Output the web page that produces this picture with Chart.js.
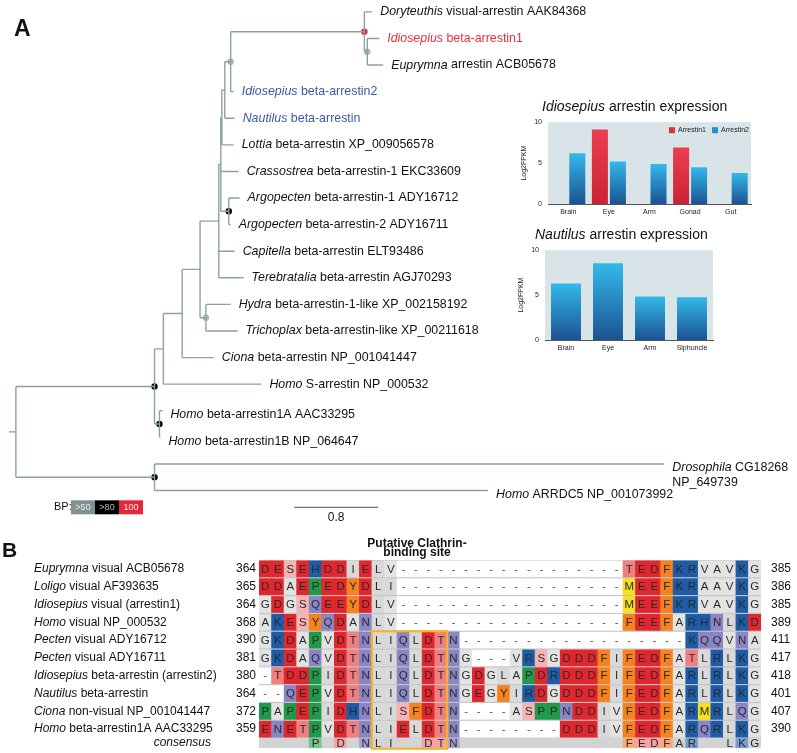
<!DOCTYPE html>
<html>
<head>
<meta charset="utf-8">
<title>Arrestin tree, expression and alignment</title>
<script src="https://cdn.jsdelivr.net/npm/chart.js@4.4.1/dist/chart.umd.min.js"></script>
<style>
  body { margin: 0; background: #fff; font-family: "Liberation Sans", Arial, sans-serif; }
  #page { position: relative; width: 797px; height: 753px; overflow: hidden; }
  canvas { position: absolute; }
  .txt { position: absolute; white-space: nowrap; color: #111; }
  .panel { font-weight: bold; font-size: 23px; line-height: 23px; }
  .ttl { font-size: 14px; line-height: 14px; }
  .site { font-weight: bold; font-size: 12px; line-height: 12px; width: 200px; text-align: center; }
</style>
</head>
<body>
<div id="page">
  <canvas id="tree" width="797" height="530" style="left:0;top:0"></canvas>
  <canvas id="idioChart" width="245" height="112" style="left:515px;top:112px"></canvas>
  <canvas id="nautChart" width="210" height="120" style="left:512px;top:240px"></canvas>
  <canvas id="align" width="797" height="198" style="left:0;top:555px"></canvas>

  <div class="txt panel" style="left:14px;top:17px">A</div>
  <div class="txt panel" style="left:2px;top:539px;font-size:21px;line-height:21px">B</div>
  <div class="txt ttl" style="left:542px;top:99px"><i>Idiosepius</i> arrestin expression</div>
  <div class="txt ttl" style="left:535px;top:227px"><i>Nautilus</i> arrestin expression</div>
  <div class="txt site" style="left:317px;top:537px">Putative Clathrin-</div>
  <div class="txt site" style="left:317px;top:546px">binding site</div>
</div>

<script>
// ==========================
// Tree data (branch depths in substitutions/site)
// ==========================
const leafGenus = ["Doryteuthis", "Idiosepius", "Euprymna", "Idiosepius", "Nautilus", "Lottia", "Crassostrea",
    "Argopecten", "Argopecten", "Capitella", "Terebratalia", "Hydra", "Trichoplax", "Ciona", "Homo", "Homo", "Homo",
    "Drosophila", "Homo"];
const leafDesc = ["visual-arrestin AAK84368", "beta-arrestin1", "arrestin ACB05678", "beta-arrestin2", "beta-arrestin",
    "beta-arrestin XP_009056578", "beta-arrestin-1 EKC33609", "beta-arrestin-1 ADY16712", "beta-arrestin-2 ADY16711",
    "beta-arrestin ELT93486", "beta-arrestin AGJ70293", "beta-arrestin-1-like XP_002158192",
    "beta-arrestin-like XP_00211618", "beta-arrestin NP_001041447", "S-arrestin NP_000532", "beta-arrestin1A AAC33295",
    "beta-arrestin1B NP_064647", "CG18268\nNP_649739", "ARRDC5 NP_001073992"];
const leafDepth = [3.388, 3.454, 3.492, 2.071, 2.080, 2.071, 2.118, 2.127, 2.042, 2.080, 2.165, 2.042, 2.108,
    1.882, 2.334, 1.393, 1.374, 6.165, 4.489];
const leafParent = ["squid", "de", "de", "ceph", "naut", "lott", "cras", "argo", "argo", "u5", "u5", "ht", "ht",
    "u3", "u2", "h1", "h1", "low", "low"];
const leafTone = ["", "red", "", "blue", "blue", "", "", "", "", "", "", "", "", "", "", "", "", "", ""];

const nodeId = ["root", "u1", "low", "h1", "u2", "u3", "u4", "ht", "u5", "cras", "argo", "lott", "naut", "ceph", "squid", "de"];
const nodeParent = [null, "root", "root", "u1", "u1", "u2", "u3", "u4", "u4", "u5", "cras", "cras", "lott", "naut", "ceph", "squid"];
const nodeDepth = [0, 1.318, 1.318, 1.365, 1.402, 1.581, 1.751, 1.807, 1.929, 1.948, 2.024, 1.958, 1.986, 2.042, 3.313, 3.341];

const bpNode = ["squid", "de", "ceph", "argo", "ht", "u1", "h1", "low"];
const bpClass = ["100", ">50", ">50", ">80", ">50", ">80", ">80", ">80"];
const bpLegend = [">50", ">80", "100"];
const scaleBarLen = 0.8;

// ==========================
// Expression data (Log2FPKM)
// ==========================
const idioTissues = ["Brain", "Eye", "Arm", "Gonad", "Gut"];
const idioArrestin1 = [null, 9.1, null, 6.9, null];
const idioArrestin2 = [6.2, 5.2, 4.9, 4.5, 3.8];
const nautTissues = ["Brain", "Eye", "Arm", "Siphuncle"];
const nautArrestin = [6.3, 8.55, 4.85, 4.75];
const fpkmTicks = [0, 5, 10];

// ==========================
// Alignment data
// ==========================
const alnGenus = ["Euprymna", "Loligo", "Idiosepius", "Homo", "Pecten", "Pecten", "Idiosepius", "Nautilus", "Ciona", "Homo"];
const alnDesc = ["visual ACB05678", "visual AF393635", "visual (arrestin1)", "visual NP_000532", "visual ADY16712",
    "visual ADY16711", "beta-arrestin (arrestin2)", "beta-arrestin", "non-visual NP_001041447", "beta-arrestin1A AAC33295"];
const alnStart = [364, 365, 364, 368, 390, 381, 380, 364, 372, 359];
const alnEnd = [385, 386, 385, 389, 411, 417, 418, 401, 407, 390];
const alnSeqs = [
    "DESEHDDIELV------------------TEDFKRVAVKG",
    "DDAEPEDYDLI------------------MEEFKRAAVKG",
    "GDGSQEEYDLV------------------MEEFKRVAVKG",
    "AKESYQDANLV------------------FEEFARHNLKD",
    "GKDAPVDTNLIQLDTN------------------KQQVNA",
    "GKDAQVDTNLIQLDTNG---VRSGDDDFIFEDFATLRLKG",
    "-TDDPIDTNLIQLDTNGDGLAPDRDDDFIFEDFARLRLKG",
    "--QEPVDTNLIQLDTNGEGYIRDGDDDFIFEDFARLRLKG",
    "PAPEPIDHNLISFDTN----ASPPNDDIVFEDFARMRLQG",
    "ENETPVDTNLIELDTN--------DDDIVFEDFARQRLKG"
];
const alnConsensus = "    P D NLI  DTN             FEDFAR  LKG";
const siteCols = [9, 14];

const FONT = "'Liberation Sans', Arial, sans-serif";
Chart.defaults.font.family = FONT;
Chart.defaults.color = "#222";
Chart.defaults.animation = false;

// ==========================
// Tree layout
// ==========================
const nodes = {};
nodeId.forEach((id, i) => nodes[id] = { x: nodeDepth[i], parent: nodeParent[i], kids: [] });
leafGenus.forEach((g, i) => nodes["leaf" + i] = { x: leafDepth[i], y: i, parent: leafParent[i], kids: [] });
Object.keys(nodes).forEach(id => { const p = nodes[id].parent; if (p) nodes[p].kids.push(id); });

function placeY(id) {
    const n = nodes[id];
    if (!n.kids.length) return n.y;
    const ys = n.kids.map(placeY);
    n.y = (Math.min(...ys) + Math.max(...ys)) / 2;
    return n.y;
}
placeY("root");

const branchPts = [];
Object.keys(nodes).forEach(id => {
    const n = nodes[id];
    if (!n.kids.length) return;
    const ys = n.kids.map(k => nodes[k].y);
    branchPts.push({ x: n.x, y: Math.min(...ys) }, { x: n.x, y: Math.max(...ys) }, { x: n.x, y: null });
    n.kids.forEach(k => {
        branchPts.push({ x: n.x, y: nodes[k].y }, { x: nodes[k].x, y: nodes[k].y }, { x: nodes[k].x, y: null });
    });
});
branchPts.push({ x: -0.066, y: nodes.root.y }, { x: 0, y: nodes.root.y });

const bpColors = { ">50": "#a8b8b8", ">80": "#000000", "100": "#e4283a" };
const bpPts = bpNode.map(id => ({ x: nodes[id].x, y: nodes[id].y }));

const treeLabels = {
    id: "treeLabels",
    afterDatasetsDraw(chart) {
        const { ctx, scales: { x, y } } = chart;
        ctx.save();
        ctx.textBaseline = "middle";
        leafGenus.forEach((g, i) => {
            const px = x.getPixelForValue(leafDepth[i]) + 8;
            const lines = leafDesc[i].split("\n");
            // the human / outgroup labels sit a little below their branch
            const py = y.getPixelForValue(i) + (i >= 15 ? 4 : 0);
            ctx.fillStyle = leafTone[i] === "red" ? "#e3303d" : leafTone[i] === "blue" ? "#3a5aa6" : "#111";
            ctx.font = "italic 12.4px " + FONT;
            ctx.fillText(g, px, py);
            const gw = ctx.measureText(g + " ").width;
            ctx.font = "12.4px " + FONT;
            ctx.fillText(lines[0], px + gw, py);
            if (lines[1]) ctx.fillText(lines[1], px, py + 15);
        });

        // scale bar
        const s0 = x.getPixelForValue(2.645), s1 = x.getPixelForValue(2.645 + scaleBarLen);
        const sy = y.getPixelForValue(18.63);
        ctx.strokeStyle = "#555";
        ctx.lineWidth = 1;
        ctx.beginPath(); ctx.moveTo(s0, sy); ctx.lineTo(s1, sy); ctx.stroke();
        ctx.fillStyle = "#111";
        ctx.font = "12px " + FONT;
        ctx.textAlign = "center";
        ctx.fillText(String(scaleBarLen), (s0 + s1) / 2, sy + 10);

        // bootstrap legend
        ctx.textAlign = "left";
        ctx.font = "11px " + FONT;
        ctx.fillText("BP:", 54, sy);
        ctx.textAlign = "center";
        ctx.font = "9px " + FONT;
        bpLegend.forEach((c, i) => {
            ctx.fillStyle = c === ">50" ? "#7f9191" : bpColors[c];
            ctx.fillRect(71 + i * 24, sy - 7, 24, 14);
            ctx.fillStyle = c === ">80" ? "#bbb" : "#eee";
            ctx.fillText(c, 83 + i * 24, sy);
        });
        ctx.restore();
    }
};

new Chart(document.getElementById("tree"), {
    type: "scatter",
    data: {
        datasets: [
            { data: branchPts, showLine: true, spanGaps: false, borderColor: "#8ea1a1", borderWidth: 1.4, pointRadius: 0 },
            { data: bpPts, showLine: false, pointRadius: 3.2, pointBorderWidth: 0,
              pointBackgroundColor: bpClass.map(c => bpColors[c]) }
        ]
    },
    options: {
        responsive: false,
        layout: { padding: 0 },
        scales: {
            x: { type: "linear", display: false, min: -12 / 106.25, max: 785 / 106.25 },
            y: { type: "linear", display: false, reverse: true, min: -8 / 27, max: 522 / 27 }
        },
        plugins: { legend: { display: false }, tooltip: { enabled: false } },
        events: []
    },
    plugins: [treeLabels]
});

// ==========================
// Expression bar charts
// ==========================
function barFill(top, bottom, solid) {
    return (c) => {
        const chart = c.chart;
        if (!chart.chartArea || c.raw == null || c.type !== "data") return solid;
        const y = chart.scales.y;
        const g = chart.ctx.createLinearGradient(0, y.getPixelForValue(c.raw), 0, y.getPixelForValue(0));
        g.addColorStop(0, top);
        g.addColorStop(1, bottom);
        return g;
    };
}

const plotBg = {
    id: "plotBg",
    beforeDraw(chart) {
        const a = chart.chartArea;
        chart.ctx.save();
        chart.ctx.fillStyle = "#d8e4e7";
        chart.ctx.fillRect(a.left, a.top, a.right - a.left, a.bottom - a.top);
        chart.ctx.restore();
    }
};

// small legend drawn inside the plot, top right
const innerLegend = {
    id: "innerLegend",
    afterDatasetsDraw(chart) {
        const { ctx, chartArea: a } = chart;
        ctx.save();
        ctx.font = "7px " + FONT;
        ctx.textBaseline = "middle";
        let right = a.right - 2;
        const cy = a.top + 8;
        for (let i = chart.data.datasets.length - 1; i >= 0; i--) {
            const ds = chart.data.datasets[i];
            const tw = ctx.measureText(ds.label).width;
            ctx.fillStyle = "#222";
            ctx.fillText(ds.label, right - tw, cy);
            ctx.fillStyle = ds.legendColor;
            ctx.fillRect(right - tw - 9, cy - 3, 6, 6);
            right -= tw + 9 + 6;
        }
        ctx.restore();
    }
};

function fpkmScales(yWidth) {
    return {
        x: {
            grid: { display: false, drawTicks: false },
            border: { display: true, color: "#555", width: 1 },
            ticks: { font: { size: 7 }, padding: 4, color: "#222" },
            afterFit: s => { s.height = 20; }
        },
        y: {
            min: 0, max: 10,
            grid: { display: false, drawTicks: false },
            border: { display: false },
            afterBuildTicks: s => { s.ticks = fpkmTicks.map(v => ({ value: v })); },
            ticks: { font: { size: 7 }, padding: 6, color: "#222" },
            title: { display: true, text: "Log2FPKM", font: { size: 7 }, padding: { top: 5, bottom: 0 }, color: "#222" },
            afterFit: s => { s.width = yWidth; }
        }
    };
}

new Chart(document.getElementById("idioChart"), {
    type: "bar",
    data: {
        labels: idioTissues,
        datasets: [
            { label: "Arrestin1", data: idioArrestin1, legendColor: "#e2303f",
              backgroundColor: barFill("#ea3f50", "#cc2334", "#e2303f") },
            { label: "Arrestin2", data: idioArrestin2, legendColor: "#2a8fcf",
              backgroundColor: barFill("#33b9ea", "#1b5292", "#2a8fcf") }
        ]
    },
    options: {
        responsive: false,
        layout: { padding: { top: 9, right: 9, left: 0, bottom: 0 } },
        datasets: { bar: { categoryPercentage: 0.887, barPercentage: 0.89 } },
        scales: fpkmScales(33),
        plugins: { legend: { display: false }, tooltip: { enabled: false } },
        events: []
    },
    plugins: [plotBg, innerLegend]
});

new Chart(document.getElementById("nautChart"), {
    type: "bar",
    data: {
        labels: nautTissues,
        datasets: [
            { label: "Arrestin", data: nautArrestin, backgroundColor: barFill("#33b9ea", "#1b5292", "#2a8fcf") }
        ]
    },
    options: {
        responsive: false,
        layout: { padding: { top: 8, right: 9, left: 0, bottom: 0 } },
        datasets: { bar: { categoryPercentage: 1, barPercentage: 0.714 } },
        scales: fpkmScales(33),
        plugins: { legend: { display: false }, tooltip: { enabled: false } },
        events: []
    },
    plugins: [plotBg]
});

// ==========================
// Alignment
// ==========================
const resColor = {
    D: "#e2262d", E: "#e2262d", T: "#f07f80", S: "#f5b3b3",
    K: "#1f5ca8", R: "#1f5ca8", H: "#1f5ca8",
    P: "#21994a", Q: "#8a85c5", N: "#8a85c5",
    F: "#f5821f", Y: "#f5821f", M: "#f3e21d",
    G: "#e3e3e3", A: "#e3e3e3", V: "#e3e3e3", L: "#d9d9d9", I: "#d9d9d9",
    "-": "#ffffff"
};
const consColor = {
    P: "#74c28c", D: "#f3a3a3", T: "#f3a3a3", E: "#f3a3a3", N: "#a6a2d6",
    F: "#f8ab78", R: "#7a9bcf", K: "#7a9bcf"
};

const colLabels = alnSeqs[0].split("").map((_, i) => String(i));
const alnDatasets = alnSeqs.map((seq, r) => ({
    data: seq.split("").map(() => [r - 0.45, r + 0.45]),
    backgroundColor: seq.split("").map(ch => resColor[ch] || "#e3e3e3")
}));
alnDatasets.push({
    data: alnConsensus.split("").map(() => [9.52, 10.05]),
    backgroundColor: alnConsensus.split("").map(ch => consColor[ch] || "#d3d3d3")
});

const alnText = {
    id: "alnText",
    beforeDatasetsDraw(chart) {
        const { ctx, chartArea: a, scales: { y } } = chart;
        ctx.save();
        ctx.fillStyle = "#c6c6c6";
        ctx.fillRect(a.left, y.getPixelForValue(-0.5), a.right - a.left, y.getPixelForValue(9.5) - y.getPixelForValue(-0.5));
        ctx.restore();
    },
    afterDatasetsDraw(chart) {
        const { ctx, scales: { x, y } } = chart;
        ctx.save();
        ctx.textAlign = "center";
        ctx.textBaseline = "middle";
        ctx.font = "11.5px " + FONT;
        const rows = alnSeqs.concat([alnConsensus]);
        rows.forEach((seq, r) => {
            const py = r < alnSeqs.length ? y.getPixelForValue(r) : y.getPixelForValue(9.785);
            seq.split("").forEach((ch, c) => {
                if (ch === " ") return;
                ctx.fillStyle = ch === "-" ? "#555" : "#2a2a2a";
                ctx.fillText(ch, x.getPixelForValue(c), py + 0.5);
            });
        });

        // names and residue numbers
        alnGenus.forEach((g, r) => {
            const py = y.getPixelForValue(r);
            ctx.textAlign = "left";
            ctx.fillStyle = "#111";
            ctx.font = "italic 12px " + FONT;
            ctx.fillText(g, 34, py);
            const gw = ctx.measureText(g + " ").width;
            ctx.font = "12px " + FONT;
            ctx.fillText(alnDesc[r], 34 + gw, py);
            ctx.textAlign = "right";
            ctx.fillText(String(alnStart[r]), 256, py);
            ctx.textAlign = "left";
            ctx.fillText(String(alnEnd[r]), 771, py);
        });
        ctx.textAlign = "right";
        ctx.font = "italic 12px " + FONT;
        ctx.fillText("consensus", 211, y.getPixelForValue(9.785));

        // clathrin-binding site box
        const cw = x.getPixelForValue(1) - x.getPixelForValue(0);
        const bx0 = x.getPixelForValue(siteCols[0]) - cw / 2;
        const bx1 = x.getPixelForValue(siteCols[1]) + cw / 2;
        const by0 = y.getPixelForValue(3.5), by1 = y.getPixelForValue(10.1);
        ctx.strokeStyle = "#f5b52a";
        ctx.lineWidth = 2.2;
        ctx.strokeRect(bx0, by0, bx1 - bx0, by1 - by0);
        ctx.restore();
    }
};

new Chart(document.getElementById("align"), {
    type: "bar",
    data: { labels: colLabels, datasets: alnDatasets },
    options: {
        responsive: false,
        layout: { padding: { left: 259, right: 36, top: 5, bottom: 0 } },
        datasets: { bar: { grouped: false, categoryPercentage: 1, barPercentage: 1, borderWidth: 0 } },
        scales: {
            x: { display: false },
            y: { display: false, reverse: true, min: -0.5, max: 10.34 }
        },
        plugins: { legend: { display: false }, tooltip: { enabled: false } },
        events: []
    },
    plugins: [alnText]
});
</script>
</body>
</html>
